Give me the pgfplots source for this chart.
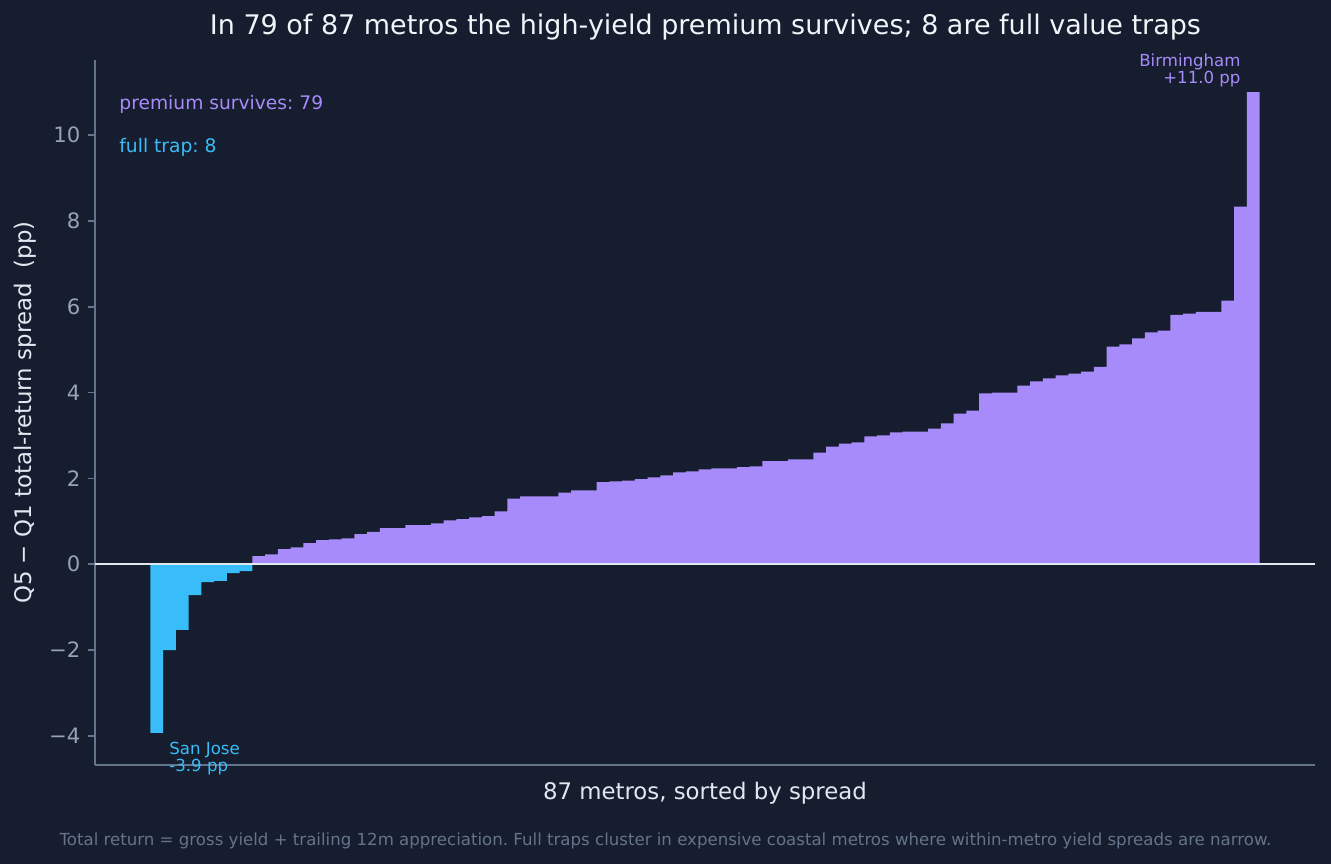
\documentclass[border=0pt]{standalone}
\usepackage{fontspec}
\setmainfont{DejaVu Sans}
\usepackage{pgfplots}
\pgfplotsset{compat=1.18}
\frenchspacing

\definecolor{bg}{HTML}{161D2E}
\definecolor{purp}{HTML}{A78BFA}
\definecolor{sky}{HTML}{38BDF8}
\definecolor{spine}{HTML}{64748B}
\definecolor{tickc}{HTML}{94A3B8}
\definecolor{titlec}{HTML}{F1F5F9}
\definecolor{labc}{HTML}{E2E8F0}
\definecolor{notec}{HTML}{64748B}

\begin{document}
\begin{tikzpicture}
\fill[bg] (0,0) rectangle (641.3pt,416.3pt);
\useasboundingbox (0,0) rectangle (641.3pt,416.3pt);

\begin{axis}[
  at={(45.77pt,47.70pt)}, anchor=south west,
  scale only axis, width=587.8pt, height=339.7pt,
  xmin=-3.85, xmax=91.85, ymin=-4.68, ymax=11.75,
  axis x line*=bottom, axis y line*=left,
  axis line style={-, spine, line width=0.8pt},
  xtick=\empty,
  ytick={-4,-2,0,2,4,6,8,10},
  yticklabels={−4,−2,0,2,4,6,8,10},
  yticklabel style={tickc, font=\fontsize{10.2}{12}\selectfont},
  tick style={spine, line width=0.8pt},
  major tick length=3.5pt, tick align=outside,
]
% full traps
\addplot[ybar, bar width=1, bar shift=0pt, fill=sky, draw=none] coordinates {
(1,-3.93) (2,-2.00) (3,-1.53) (4,-0.72) (5,-0.42) (6,-0.39) (7,-0.21) (8,-0.16)
};
% premium survives
\addplot[ybar, bar width=1, bar shift=0pt, fill=purp, draw=none] coordinates {
(9,0.19) (10,0.23) (11,0.35) (12,0.39) (13,0.49) (14,0.56) (15,0.58) (16,0.60)
(17,0.70) (18,0.75) (19,0.84) (20,0.84) (21,0.91) (22,0.91) (23,0.95) (24,1.02)
(25,1.05) (26,1.09) (27,1.12) (28,1.23) (29,1.53) (30,1.58) (31,1.58) (32,1.58)
(33,1.67) (34,1.72) (35,1.72) (36,1.91) (37,1.93) (38,1.95) (39,1.98) (40,2.02)
(41,2.07) (42,2.14) (43,2.16) (44,2.21) (45,2.23) (46,2.23) (47,2.26) (48,2.28)
(49,2.40) (50,2.40) (51,2.44) (52,2.44) (53,2.60) (54,2.74) (55,2.81) (56,2.84)
(57,2.98) (58,3.00) (59,3.07) (60,3.09) (61,3.09) (62,3.16) (63,3.28) (64,3.51)
(65,3.58) (66,3.98) (67,4.00) (68,4.00) (69,4.16) (70,4.26) (71,4.33) (72,4.40)
(73,4.44) (74,4.49) (75,4.60) (76,5.07) (77,5.12) (78,5.26) (79,5.40) (80,5.44)
(81,5.81) (82,5.84) (83,5.88) (84,5.88) (85,6.14) (86,8.33) (87,11.00)
};
\addplot[labc, line width=0.8pt] coordinates {(-3.85,0) (91.85,0)};
\end{axis}

% texts placed in pixel coordinates of the 1331x864 frame
\begin{scope}[x=0.4818pt, y=-0.4818pt, shift={(0,416.3pt)}]
\node[anchor=base, inner sep=0, titlec, font=\fontsize{13}{15}\selectfont] at (705.5,35)
  {In 79 of 87 metros the high-yield premium survives; 8 are full value traps};
\node[anchor=base, inner sep=0, labc, font=\fontsize{11}{13}\selectfont] at (705,800)
  {87 metros, sorted by spread};
\node[anchor=center, inner sep=0, rotate=90, labc, font=\fontsize{11}{13}\selectfont] at (25,412.5)
  {Q5 − Q1 total-return spread\ \ (pp)};
\node[anchor=base, inner sep=0, notec, font=\fontsize{8}{10}\selectfont] at (665.5,846)
  {Total return = gross yield + trailing 12m appreciation. Full traps cluster in expensive coastal metros where within-metro yield spreads are narrow.};
\node[anchor=base west, inner sep=0, purp, font=\fontsize{9}{11}\selectfont] at (119,110)
  {premium survives: 79};
\node[anchor=base west, inner sep=0, sky, font=\fontsize{9}{11}\selectfont] at (119,153)
  {full trap: 8};
\node[anchor=base west, inner sep=0, sky, font=\fontsize{8}{10}\selectfont] at (169,755) {San Jose};
\node[anchor=base west, inner sep=0, sky, font=\fontsize{8}{10}\selectfont] at (169,772) {-3.9 pp};
\node[anchor=base east, inner sep=0, purp, font=\fontsize{8}{10}\selectfont] at (1241,67) {Birmingham};
\node[anchor=base east, inner sep=0, purp, font=\fontsize{8}{10}\selectfont] at (1241,84) {+11.0 pp};
\end{scope}
\end{tikzpicture}
\end{document}
